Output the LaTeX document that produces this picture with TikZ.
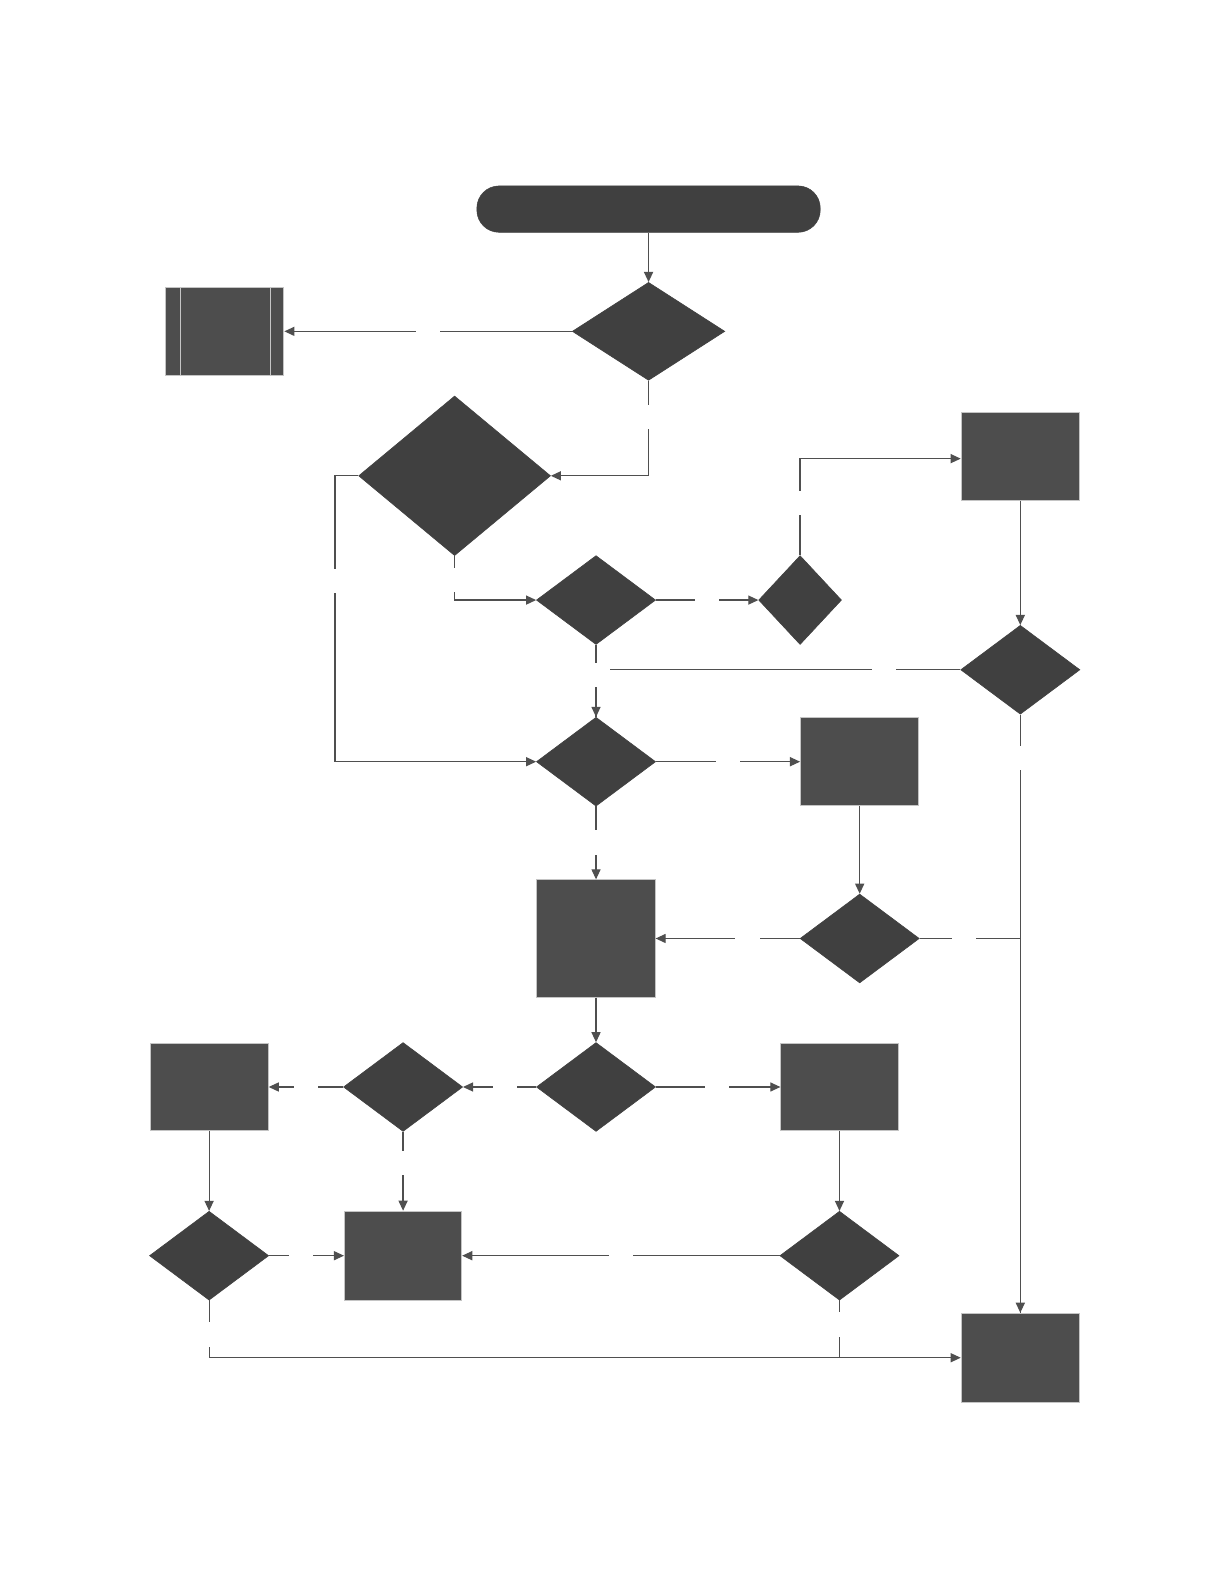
\documentclass[tikz,border=0pt]{standalone}
\usetikzlibrary{shapes.geometric, arrows.meta}

\definecolor{escuro}{HTML}{404040}
\definecolor{caixa}{HTML}{4D4D4D}
\definecolor{borda}{HTML}{C4C4C4}
\definecolor{linha}{HTML}{4F4F4F}

\tikzset{
  decisao/.style={diamond, fill=escuro, draw=escuro, inner sep=0pt, line width=0.6pt},
  processo/.style={rectangle, fill=caixa, draw=borda, inner sep=0pt, line width=1pt},
  terminal/.style={rectangle, rounded corners=22pt, fill=escuro, draw=escuro, inner sep=0pt},
  fluxo/.style={draw=linha, line width=1.2pt, -{Triangle[length=10pt, width=9pt]}},
  liga/.style={draw=linha, line width=1.2pt},
  vao/.style={fill=white, inner sep=0pt, minimum size=24pt}
}

\begin{document}
\begin{tikzpicture}[x=1pt, y=-1pt]
    \useasboundingbox (0,0) rectangle (1212,1568);

    % --- inicio ---
    \node[terminal, minimum width=340pt, minimum height=46pt] (ini) at (642,207) {};

    % --- decisoes (losangos) ---
    \node[decisao, minimum width=151pt, minimum height=97pt]  (d1)  at (642,328)  {};
    \node[decisao, minimum width=190pt, minimum height=158pt] (d2)  at (450,471)  {};
    \node[decisao, minimum width=118pt, minimum height=88pt]  (d3)  at (590,594)  {};
    \node[decisao, minimum width=82pt,  minimum height=88pt]  (d4)  at (792,594)  {};
    \node[decisao, minimum width=118pt, minimum height=88pt]  (d5)  at (1010,663) {};
    \node[decisao, minimum width=118pt, minimum height=88pt]  (d6)  at (590,754)  {};
    \node[decisao, minimum width=118pt, minimum height=88pt]  (d7)  at (851,929)  {};
    \node[decisao, minimum width=118pt, minimum height=88pt]  (d8)  at (590,1076) {};
    \node[decisao, minimum width=118pt, minimum height=88pt]  (d9)  at (399,1076) {};
    \node[decisao, minimum width=118pt, minimum height=88pt]  (d10) at (207,1243) {};
    \node[decisao, minimum width=118pt, minimum height=88pt]  (d11) at (831,1243) {};

    % --- processos (retangulos) ---
    \node[processo, minimum width=117pt, minimum height=87pt]  (p1) at (222.5,328) {};
    \draw[borda, line width=1pt] ([xshift=15pt]p1.north west) -- ([xshift=15pt]p1.south west)
                                 ([xshift=-14pt]p1.north east) -- ([xshift=-14pt]p1.south east);
    \node[processo, minimum width=117pt, minimum height=87pt]  (b1) at (1010,451.5) {};
    \node[processo, minimum width=117pt, minimum height=87pt]  (b2) at (851,754)    {};
    \node[processo, minimum width=117pt, minimum height=116pt] (b3) at (590,929)    {};
    \node[processo, minimum width=117pt, minimum height=87pt]  (b4) at (207,1076)   {};
    \node[processo, minimum width=116pt, minimum height=87pt]  (b5) at (831,1076)   {};
    \node[processo, minimum width=116pt, minimum height=88pt]  (b6) at (399,1243)   {};
    \node[processo, minimum width=117pt, minimum height=88pt]  (b7) at (1010,1344)  {};

    % --- conectores ---
    \draw[fluxo] (ini.south) -- (d1.north);
    \draw[fluxo] (d1.west) -- (p1.east);
    \draw[fluxo] (d1.south) |- (d2.east);
    \draw[fluxo] (d2.west) -- ++(-23,0) |- (d6.west);
    \draw[fluxo] (d2.south) |- (d3.west);
    \draw[fluxo] (d3.east) -- (d4.west);
    \draw[fluxo] (d4.north) |- ([yshift=-2.5pt]b1.west);
    \draw[fluxo] (b1.south) -- (d5.north);
    \draw[liga]  (d5.west) -| (d6.north);
    \draw[fluxo] (d3.south) -- (d6.north);
    \draw[fluxo] (d5.south) -- (b7.north);
    \draw[fluxo] (d6.east) -- (b2.west);
    \draw[fluxo] (d6.south) -- (b3.north);
    \draw[fluxo] (b2.south) -- (d7.north);
    \draw[fluxo] (d7.west) -- (b3.east);
    \draw[liga]  (d7.east) -| (b7.north);
    \draw[fluxo] (b3.south) -- (d8.north);
    \draw[fluxo] (d8.west) -- (d9.east);
    \draw[fluxo] (d8.east) -- (b5.west);
    \draw[fluxo] (d9.west) -- (b4.east);
    \draw[fluxo] (d9.south) -- (b6.north);
    \draw[fluxo] (b4.south) -- (d10.north);
    \draw[fluxo] (b5.south) -- (d11.north);
    \draw[fluxo] (d11.west) -- (b6.east);
    \draw[fluxo] (d10.east) -- (b6.west);
    \draw[fluxo] (d10.south) |- (b7.west);
    \draw[liga]  (d11.south) -- (d11.south |- b7.west);

    % --- vaos dos rotulos (vazios) ---
    \node[vao] (v1)  at (424,328)  {};
    \node[vao] (v2)  at (642,413)  {};
    \node[vao] (v3)  at (332,575)  {};
    \node[vao] (v4)  at (450,574)  {};
    \node[vao] (v5)  at (700,594)  {};
    \node[vao] (v6)  at (792,498)  {};
    \node[vao] (v7)  at (875,663)  {};
    \node[vao, minimum width=28pt] (v8) at (590,668) {};
    \node[vao] (v9)  at (1010,750) {};
    \node[vao] (v10) at (721,754)  {};
    \node[vao] (v11) at (590,834)  {};
    \node[vao] (v12) at (740,929)  {};
    \node[vao] (v13) at (954,929)  {};
    \node[vao] (v14) at (500,1076) {};
    \node[vao] (v15) at (710,1076) {};
    \node[vao] (v16) at (303,1076) {};
    \node[vao] (v17) at (399,1151) {};
    \node[vao] (v18) at (615,1243) {};
    \node[vao] (v19) at (298,1243) {};
    \node[vao] (v20) at (207,1321) {};
    \node[vao] (v21) at (831,1311) {};
  \end{tikzpicture}
\end{document}
